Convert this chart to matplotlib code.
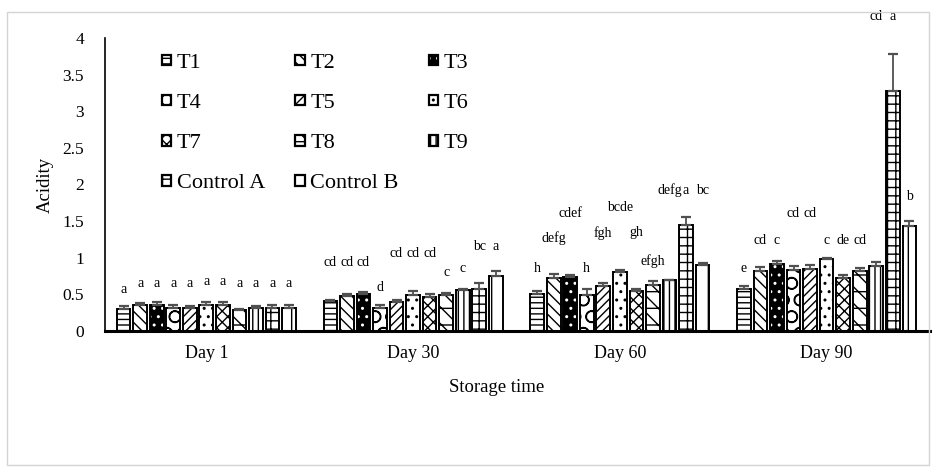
import numpy as np
import matplotlib
matplotlib.use("Agg")
import matplotlib.pyplot as plt
from matplotlib.patches import Patch, Rectangle
from matplotlib.legend_handler import HandlerTuple

plt.rcParams['font.family'] = ['Liberation Serif', 'DejaVu Serif']
plt.rcParams['hatch.linewidth'] = 1.0

days = ["Day 1", "Day 30", "Day 60", "Day 90"]
treatments = ["T1", "T2", "T3", "T4", "T5", "T6", "T7", "T8", "T9", "Control A", "Control B"]

# acidity values per treatment across days
T1 = [0.30, 0.41, 0.51, 0.57]
T2 = [0.36, 0.48, 0.73, 0.82]
T3 = [0.35, 0.51, 0.74, 0.92]
T4 = [0.32, 0.31, 0.49, 0.83]
T5 = [0.31, 0.40, 0.62, 0.85]
T6 = [0.35, 0.49, 0.80, 0.98]
T7 = [0.35, 0.47, 0.54, 0.73]
T8 = [0.28, 0.49, 0.63, 0.82]
T9 = [0.32, 0.56, 0.69, 0.89]
CA = [0.32, 0.57, 1.45, 3.28]
CB = [0.32, 0.75, 0.90, 1.43]

E1 = [0.04, 0.02, 0.04, 0.05]
E2 = [0.02, 0.03, 0.05, 0.05]
E3 = [0.04, 0.02, 0.03, 0.04]
E4 = [0.03, 0.05, 0.08, 0.06]
E5 = [0.03, 0.03, 0.03, 0.05]
E6 = [0.04, 0.06, 0.03, 0.02]
E7 = [0.05, 0.03, 0.03, 0.03]
E8 = [0.02, 0.03, 0.05, 0.04]
E9 = [0.02, 0.02, 0.00, 0.05]
ECA = [0.04, 0.08, 0.10, 0.50]
ECB = [0.04, 0.07, 0.03, 0.07]

# significance letters and their heights
L1 = ["a", "cd", "h", "e"];        H1 = [0.57, 0.94, 0.86, 0.86]
L2 = ["a", "cd", "defg", "cd"];    H2 = [0.65, 0.94, 1.27, 1.24]
L3 = ["a", "cd", "cdef", "c"];     H3 = [0.65, 0.94, 1.60, 1.24]
L4 = ["a", "d", "h", "cd"];        H4 = [0.65, 0.60, 0.86, 1.61]
L5 = ["a", "cd", "fgh", "cd"];     H5 = [0.65, 1.06, 1.34, 1.61]
L6 = ["a", "cd", "bcde", "c"];     H6 = [0.67, 1.06, 1.69, 1.24]
L7 = ["a", "cd", "gh", "de"];      H7 = [0.67, 1.06, 1.35, 1.24]
L8 = ["a", "c", "efgh", "cd"];     H8 = [0.65, 0.80, 0.96, 1.24]
L9 = ["a", "c", "defg", "cd"];     H9 = [0.65, 0.86, 1.92, 4.30]
LCA = ["a", "bc", "a", "a"];       HCA = [0.65, 1.15, 1.92, 4.30]
LCB = ["a", "a", "bc", "b"];       HCB = [0.65, 1.15, 1.92, 1.83]

values = [T1, T2, T3, T4, T5, T6, T7, T8, T9, CA, CB]
errors = [E1, E2, E3, E4, E5, E6, E7, E8, E9, ECA, ECB]
letters = [L1, L2, L3, L4, L5, L6, L7, L8, L9, LCA, LCB]
heights = [H1, H2, H3, H4, H5, H6, H7, H8, H9, HCA, HCB]

# style: (facecolor, hatchcolor, hatch)
styles = [
    ("white", "black", "---"),
    ("white", "black", "\\\\\\"),
    ("black", "white", ".."),
    ("white", "black", "O"),
    ("white", "black", "////"),
    ("white", "black", ".."),
    ("white", "black", "xxx"),
    ("white", "black", "-\\\\"),
    ("white", "black", "|||"),
    ("white", "black", "++"),
    ("white", "black", "|"),
]

fig = plt.figure(figsize=(9.36, 4.72), dpi=100)
ax = fig.add_axes([105/936, 1-331/472, (930-105)/936, (331-38)/472])

x = np.arange(len(days))
slot = 0.08
bw = 0.066
n = len(treatments)
handles = []
for i, (name, v, e, st) in enumerate(zip(treatments, values, errors, styles)):
    xs = x + (i - (n - 1) / 2) * slot
    fc, hc, hatch = st
    ax.bar(xs, v, bw, color=fc, edgecolor=hc, hatch=hatch, linewidth=0, zorder=2)
    ax.bar(xs, v, bw, fill=False, edgecolor="black", linewidth=1.4, zorder=3)
    ax.errorbar(xs, v, yerr=[np.zeros(len(v)), e], fmt="none", ecolor="#505050",
                elinewidth=1.3, capsize=3.5, capthick=1.6, zorder=4)
    for xi, lab, hy in zip(xs, letters[i], heights[i]):
        ax.text(xi, hy, lab, ha="center", va="center", fontsize=10, clip_on=False, zorder=5)
    h1 = Patch(facecolor=fc, edgecolor=hc, hatch=hatch, linewidth=0)
    h2 = Patch(fill=False, edgecolor="black", linewidth=1.6)
    handles.append((h1, h2))

ax.set_xlim(-0.49, 3.5)
ax.set_ylim(0, 4)
ax.set_yticks([0, 0.5, 1, 1.5, 2, 2.5, 3, 3.5, 4])
ax.set_yticklabels(["0", "0.5", "1", "1.5", "2", "2.5", "3", "3.5", "4"])
ax.set_xticks(x)
ax.set_xticklabels(days)
ax.tick_params(axis="y", length=0, pad=15, labelsize=12.5)
ax.tick_params(axis="x", length=0, pad=10, labelsize=13)
for s in ["top", "right"]:
    ax.spines[s].set_visible(False)
ax.spines["left"].set_linewidth(1.2)
ax.spines["bottom"].set_linewidth(2.2)
ax.set_ylabel("Acidity", fontsize=13.5, labelpad=6)
fig.text(497/936, 1-387/472, "Storage time", ha="center", va="center", fontsize=13.5)

order = [0, 3, 6, 9, 1, 4, 7, 10, 2, 5, 8]
leg = fig.legend([handles[k] for k in order], [treatments[k] for k in order],
                 ncol=3, loc="upper left", bbox_to_anchor=(162/936, 1-54/472),
                 frameon=False, fontsize=16, handlelength=0.42, handleheight=0.36,
                 handletextpad=0.25, columnspacing=1.35, labelspacing=0.95,
                 borderpad=0, borderaxespad=0,
                 handler_map={tuple: HandlerTuple(ndivide=1, pad=0)})

fig.patches.append(Rectangle((7/936, 7/472), (929-7)/936, (460-7)/472,
                             transform=fig.transFigure, fill=False,
                             edgecolor="#d4d4d4", linewidth=1.0))

fig.savefig("out.png", dpi=100)
